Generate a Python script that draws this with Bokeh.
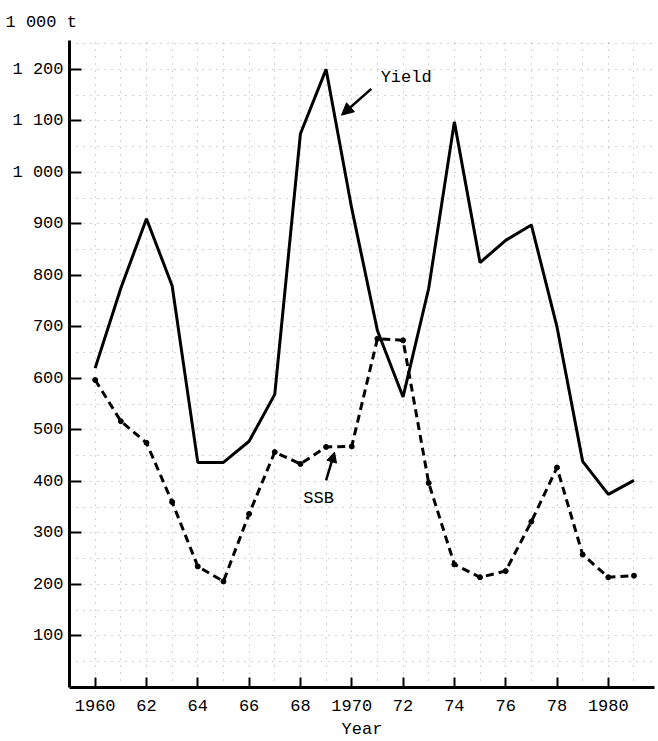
from bokeh.plotting import figure
from bokeh.models import FixedTicker, Label, Arrow, NormalHead, Range1d, Title
from bokeh.embed import file_html
from bokeh.resources import INLINE

years = list(range(1960, 1982))
yield_kt = [620, 775, 910, 780, 437, 437, 478, 569, 1075, 1200, 930, 693, 564, 775,
            1098, 825, 868, 898, 700, 439, 375, 402]
ssb_kt = [597, 517, 475, 360, 235, 206, 337, 457, 434, 467, 468, 677, 674, 397,
          239, 214, 226, 322, 427, 258, 214, 217]

x_ticks = [1960, 1962, 1964, 1966, 1968, 1970, 1972, 1974, 1976, 1978, 1980]
x_tick_labels = ["1960", "62", "64", "66", "68", "1970", "72", "74", "76", "78", "1980"]
y_ticks = [100, 200, 300, 400, 500, 600, 700, 800, 900, 1000, 1100, 1200]
y_tick_labels = ["100", "200", "300", "400", "500", "600", "700", "800", "900",
                 "1 000", "1 100", "1 200"]

FONT = "Liberation Mono"

p = figure(width=658, height=741, x_range=Range1d(1959.0, 1981.8), y_range=Range1d(0, 1256),
           output_backend="svg", toolbar_location=None,
           min_border_left=69, min_border_right=4, min_border_top=40, min_border_bottom=54)
p.outline_line_color = None
p.background_fill_color = "white"

# unit label above the value axis
p.add_layout(Title(text="1 000 t", align="left", offset=-64, text_font=FONT,
                   text_font_size="17px", text_font_style="normal", text_color="black",
                   standoff=18), "above")

# graph-paper grid
p.xgrid.ticker = FixedTicker(ticks=list(range(1959, 1982)))
p.ygrid.ticker = FixedTicker(ticks=list(range(50, 1251, 50)))
for g in (p.xgrid, p.ygrid):
    g.grid_line_color = "#555555"
    g.grid_line_alpha = 0.5
    g.grid_line_dash = "1 6"
    g.grid_line_width = 1

# axes
p.xaxis.ticker = FixedTicker(ticks=x_ticks)
p.xaxis.major_label_overrides = {t: s for t, s in zip(x_ticks, x_tick_labels)}
p.yaxis.ticker = FixedTicker(ticks=y_ticks)
p.yaxis.major_label_overrides = {t: s for t, s in zip(y_ticks, y_tick_labels)}
for ax in (p.xaxis, p.yaxis):
    ax.axis_line_width = 3
    ax.axis_line_color = "black"
    ax.major_tick_line_width = 2
    ax.major_tick_line_color = "black"
    ax.major_tick_out = 0
    ax.minor_tick_line_color = None
    ax.major_label_text_font = FONT
    ax.major_label_text_font_size = "17px"
    ax.major_label_text_color = "black"
    ax.major_label_text_font_style = "normal"
p.xaxis.major_tick_in = 10
p.yaxis.major_tick_in = 12
p.xaxis.major_label_standoff = 12
p.yaxis.major_label_standoff = 6
p.xaxis.axis_label = "Year"
p.xaxis.axis_label_text_font = FONT
p.xaxis.axis_label_text_font_size = "17px"
p.xaxis.axis_label_text_font_style = "normal"
p.xaxis.axis_label_text_color = "black"
p.xaxis.axis_label_standoff = 6

# series
p.line(years, yield_kt, line_color="black", line_width=3)
p.line(years, ssb_kt, line_color="black", line_width=3, line_dash="8 5")
p.scatter(years, ssb_kt, size=5, color="black")

# annotations
p.add_layout(Label(x=1972.12, y=1185, text="Yield", text_font=FONT, text_font_size="17px",
                   text_align="center", text_baseline="middle", text_color="black"))
p.add_layout(Label(x=1968.71, y=367, text="SSB", text_font=FONT, text_font_size="17px",
                   text_align="center", text_baseline="middle", text_color="black"))
p.add_layout(Arrow(end=NormalHead(size=12, fill_color="black", line_color="black"),
                   x_start=1970.76, y_start=1162, x_end=1969.6, y_end=1111,
                   line_width=2.5, line_color="black"))
p.add_layout(Arrow(end=NormalHead(size=10, fill_color="black", line_color="black"),
                   x_start=1969.0, y_start=402, x_end=1969.33, y_end=457,
                   line_width=2.5, line_color="black"))

open("out.html", "w").write(file_html(p, INLINE))
